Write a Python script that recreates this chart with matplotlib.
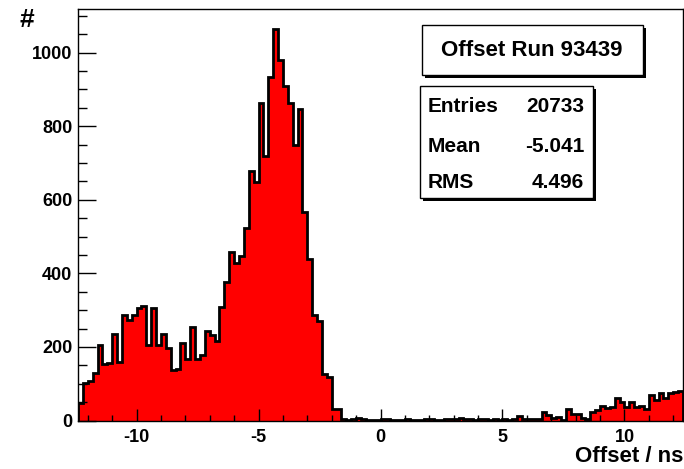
#!/usr/bin/python3

import numpy as np
import matplotlib.pyplot as plt
from matplotlib.patches import Rectangle

# histogram binning, 0.2 ns wide bins
x_lo = -12.4
x_hi = 12.4
n_bins = 124

counts = [
    47, 101, 108, 130, 206, 153, 156, 235, 160, 287,
    274, 287, 306, 311, 206, 306, 206, 234, 197, 137,
    139, 210, 166, 254, 168, 177, 243, 233, 216, 309,
    376, 457, 428, 448, 524, 678, 649, 864, 719, 935,
    1064, 980, 909, 864, 749, 848, 566, 439, 287, 270,
    126, 118, 31, 32, 3, 2, 5, 6, 4, 2,
    1, 2, 3, 3, 2, 1, 2, 3, 2, 1,
    2, 3, 3, 2, 2, 4, 3, 5, 8, 4,
    3, 2, 3, 4, 2, 3, 2, 3, 2, 3,
    13, 5, 3, 3, 4, 22, 15, 8, 10, 1,
    30, 18, 17, 8, 5, 22, 28, 40, 33, 38,
    60, 50, 38, 50, 38, 40, 30, 68, 56, 74,
    62, 74, 77, 80,
]

title = "Offset Run 93439"
stat_names = ["Entries", "Mean", "RMS"]
stat_values = ["20733", "-5.041", "4.496"]

W, H = 684, 469
plt.rcParams['font.family'] = ['Liberation Sans', 'DejaVu Sans']
plt.rcParams['font.weight'] = 'bold'
plt.rcParams['axes.unicode_minus'] = False


def fx(px):
    return px / W


def fy(py):
    return 1 - py / H


def box(fig, x0, y0, x1, y1):
    # white box with a drop shadow on the right and bottom
    sh = 3
    fig.patches.append(Rectangle((fx(x0 + sh), fy(y1 + sh)), fx(x1 - x0), (y1 - y0) / H,
                                 transform=fig.transFigure, facecolor='black',
                                 edgecolor='black', lw=0, zorder=5))
    fig.patches.append(Rectangle((fx(x0), fy(y1)), fx(x1 - x0), (y1 - y0) / H,
                                 transform=fig.transFigure, facecolor='white',
                                 edgecolor='black', lw=1.0, zorder=6))


def main():
    edges = np.linspace(x_lo, x_hi, n_bins + 1)
    c = np.array(counts, dtype=float)

    fig = plt.figure(figsize=(W / 100, H / 100), dpi=100)
    ax = fig.add_axes([fx(78), fy(420.5), fx(683 - 78), (420.5 - 9.5) / H])

    ax.stairs(c, edges, fill=True, color='#ff0000', lw=0)
    ax.stairs(c, edges, color='black', lw=2.0, baseline=0)

    ax.set_xlim(x_lo, x_hi)
    ax.set_ylim(0, 1.05 * c.max())
    ax.set_xticks([-10, -5, 0, 5, 10])
    ax.set_xticks(np.arange(-12, 13, 1), minor=True)
    ax.set_yticks(np.arange(0, 1001, 200))
    ax.set_yticks(np.arange(0, 1101, 50), minor=True)

    ax.tick_params(axis='x', which='major', direction='in', length=8.6, width=1.0,
                   labelsize=13, pad=6)
    ax.tick_params(axis='x', which='minor', direction='in', length=4.3, width=1.0)
    ax.tick_params(axis='y', which='major', direction='in', length=13, width=1.0,
                   labelsize=13, pad=4)
    ax.tick_params(axis='y', which='minor', direction='in', length=6.5, width=1.0)
    for lab in ax.get_xticklabels() + ax.get_yticklabels():
        lab.set_fontweight('bold')
    for s in ax.spines.values():
        s.set_linewidth(1.0)

    fig.text(fx(27), fy(20), "#", ha='center', va='center', fontsize=19, fontweight='bold')
    fig.text(fx(683), fy(456), "Offset / ns", ha='right', va='center',
             fontsize=16, fontweight='bold')

    # title box
    box(fig, 422, 25, 643, 75)
    fig.text(fx(532), fy(51), title, ha='center', va='center', fontsize=16,
             fontweight='bold', zorder=7)

    # statistics box
    box(fig, 420, 86, 593, 198)
    rows_y = [107, 146, 183]
    for name, val, ry in zip(stat_names, stat_values, rows_y):
        fig.text(fx(428), fy(ry), name, ha='left', va='center', fontsize=15,
                 fontweight='bold', zorder=7)
        fig.text(fx(584), fy(ry), val, ha='right', va='center', fontsize=15,
                 fontweight='bold', zorder=7)

    fig.savefig("out.png", dpi=100)


if __name__ == "__main__":
    main()
